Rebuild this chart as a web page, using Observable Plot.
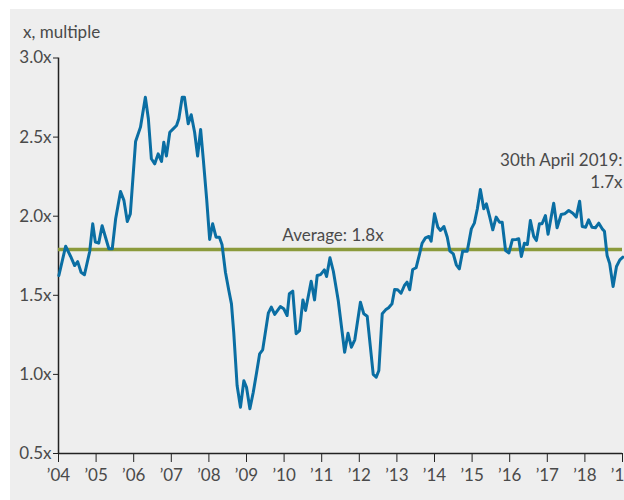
<!DOCTYPE html>
<html>
<head>
<meta charset="utf-8">
<script src="https://cdn.jsdelivr.net/npm/d3@7"></script>
<script src="https://cdn.jsdelivr.net/npm/@observablehq/plot@0.6"></script>
<style>
  html, body { margin: 0; padding: 0; background: #ffffff; }
  #wrap { position: absolute; left: 10px; top: 9px; width: 614px; height: 491px; background: #eeeeee; overflow: hidden; }
  #ylabel { position: absolute; left: 13px; top: 12px; font: 17px Lato, sans-serif; color: #4a4a4a; }
  #chart { position: absolute; left: 0; top: 0; }
</style>
</head>
<body>
<div id="wrap">
  <div id="chart"></div>
  <div id="ylabel">x, multiple</div>
</div>
<script>
// Decimal year of each reading and the multiple at that point
const dates = [
  2004.01, 2004.19, 2004.32, 2004.43, 2004.51, 2004.60, 2004.69, 2004.83, 2004.91, 2004.98,
  2005.07, 2005.16, 2005.25, 2005.34, 2005.43, 2005.52, 2005.65, 2005.74, 2005.83, 2005.91,
  2006.05, 2006.18, 2006.31, 2006.39, 2006.47, 2006.56, 2006.65, 2006.74, 2006.80, 2006.87,
  2006.96, 2007.05, 2007.14, 2007.20, 2007.29, 2007.35, 2007.45, 2007.53, 2007.62, 2007.70,
  2007.78, 2007.85, 2007.94, 2008.02, 2008.10, 2008.19, 2008.28, 2008.35, 2008.44, 2008.53,
  2008.60, 2008.66, 2008.75, 2008.84, 2008.93, 2009.00, 2009.09, 2009.18, 2009.27, 2009.35,
  2009.43, 2009.58, 2009.66, 2009.75, 2009.90, 2009.99, 2010.08, 2010.14, 2010.23, 2010.32,
  2010.41, 2010.50, 2010.57, 2010.72, 2010.81, 2010.88, 2010.97, 2011.07, 2011.13, 2011.22,
  2011.31, 2011.44, 2011.61, 2011.70, 2011.79, 2011.88, 2012.03, 2012.12, 2012.21, 2012.37,
  2012.45, 2012.52, 2012.61, 2012.70, 2012.78, 2012.87, 2012.94, 2013.02, 2013.11, 2013.20,
  2013.27, 2013.34, 2013.42, 2013.51, 2013.60, 2013.67, 2013.76, 2013.85, 2013.91, 2014.00,
  2014.09, 2014.16, 2014.25, 2014.34, 2014.41, 2014.50, 2014.58, 2014.66, 2014.75, 2014.87,
  2014.98, 2015.06, 2015.14, 2015.22, 2015.31, 2015.38, 2015.47, 2015.55, 2015.64, 2015.73,
  2015.80, 2015.89, 2015.98, 2016.07, 2016.17, 2016.24, 2016.31, 2016.39, 2016.47, 2016.55,
  2016.64, 2016.71, 2016.79, 2016.86, 2016.95, 2017.02, 2017.17, 2017.26, 2017.37, 2017.46,
  2017.57, 2017.68, 2017.77, 2017.86, 2017.93, 2018.02, 2018.10, 2018.19, 2018.28, 2018.37,
  2018.46, 2018.52, 2018.59, 2018.66, 2018.75, 2018.84, 2018.93, 2019.01
];
const multiples = [
  1.625, 1.81, 1.747, 1.688, 1.713, 1.646, 1.63, 1.777, 1.952, 1.836,
  1.83, 1.94, 1.867, 1.794, 1.794, 1.984, 2.156, 2.10, 1.967, 2.015,
  2.472, 2.563, 2.752, 2.616, 2.363, 2.331, 2.394, 2.346, 2.468, 2.38,
  2.531, 2.552, 2.573, 2.616, 2.752, 2.752, 2.584, 2.641, 2.531, 2.38,
  2.548, 2.363, 2.11, 1.853, 1.952, 1.867, 1.867, 1.819, 1.646, 1.53,
  1.446, 1.267, 0.93, 0.793, 0.96, 0.919, 0.783, 0.887, 1.014, 1.13,
  1.155, 1.387, 1.425, 1.379, 1.429, 1.415, 1.372, 1.51, 1.526, 1.257,
  1.277, 1.471, 1.404, 1.589, 1.471, 1.625, 1.631, 1.661, 1.619, 1.737,
  1.652, 1.467, 1.14, 1.26, 1.172, 1.219, 1.456, 1.383, 1.368, 1.0,
  0.982, 1.025, 1.383, 1.408, 1.421, 1.446, 1.537, 1.535, 1.513, 1.562,
  1.583, 1.535, 1.663, 1.674, 1.758, 1.829, 1.863, 1.872, 1.842, 2.015,
  1.93, 1.91, 1.935, 1.867, 1.779, 1.762, 1.693, 1.667, 1.78, 1.779,
  1.92, 1.956, 2.047, 2.169, 2.047, 2.078, 1.994, 1.914, 1.994, 1.962,
  1.962, 1.783, 1.768, 1.851, 1.853, 1.857, 1.745, 1.829, 1.821, 1.973,
  1.872, 1.846, 1.952, 1.952, 2.004, 1.886, 2.082, 1.927, 2.011, 2.015,
  2.036, 2.019, 1.994, 2.095, 1.935, 1.93, 1.977, 1.93, 1.927, 1.956,
  1.92, 1.905, 1.752, 1.70, 1.555, 1.682, 1.724, 1.741
];
const average = 1.79;
const yTicks = [0.5, 1.0, 1.5, 2.0, 2.5, 3.0];
const xTicks = [2004, 2005, 2006, 2007, 2008, 2009, 2010, 2011, 2012, 2013, 2014, 2015, 2016, 2017, 2018, 2019];
const avgLabel = "Average: 1.8x";
const lastLabelLines = ["30th April 2019:", "1.7x"];

const series = dates.map((d, i) => ({date: d, value: multiples[i]}));

const fontFamily = "Lato, sans-serif";
const chart = Plot.plot({
  width: 614,
  height: 491,
  marginLeft: 48,
  marginRight: 2,
  marginTop: 48.5,
  marginBottom: 47,
  style: {background: "transparent", fontFamily, fontSize: "17px", color: "#4a4a4a", overflow: "visible"},
  x: {domain: [2004, 2019]},
  y: {domain: [0.5, 3.0]},
  marks: [
    Plot.axisY({ticks: yTicks, tickFormat: d => d.toFixed(1) + "x", tickSize: 5, tickPadding: 2, label: null, stroke: "#222", fontSize: 17}),
    Plot.axisX({ticks: xTicks, tickFormat: d => "\u2019" + String(d).slice(2), tickSize: 9, tickPadding: 6, label: null, stroke: "#222", fontSize: 17}),
    Plot.ruleX([2004], {stroke: "#222", strokeWidth: 1.5}),
    Plot.ruleY([0.5], {stroke: "#222", strokeWidth: 1.5}),
    Plot.ruleY([average], {stroke: "#8b9a3b", strokeWidth: 3.5}),
    Plot.line(series, {x: "date", y: "value", stroke: "#0a6ea3", strokeWidth: 3, strokeLinejoin: "round"}),
    Plot.text([avgLabel], {x: 2011.3, y: average, dy: -14, text: d => d, fill: "#4a4a4a", fontSize: 17}),
    Plot.text([lastLabelLines[0]], {x: 2019, y: 2.35, textAnchor: "end", text: d => d, fill: "#4a4a4a", fontSize: 17}),
    Plot.text([lastLabelLines[1]], {x: 2019, y: 2.215, textAnchor: "end", text: d => d, fill: "#4a4a4a", fontSize: 17})
  ]
});
document.getElementById("chart").appendChild(chart);
</script>
</body>
</html>
